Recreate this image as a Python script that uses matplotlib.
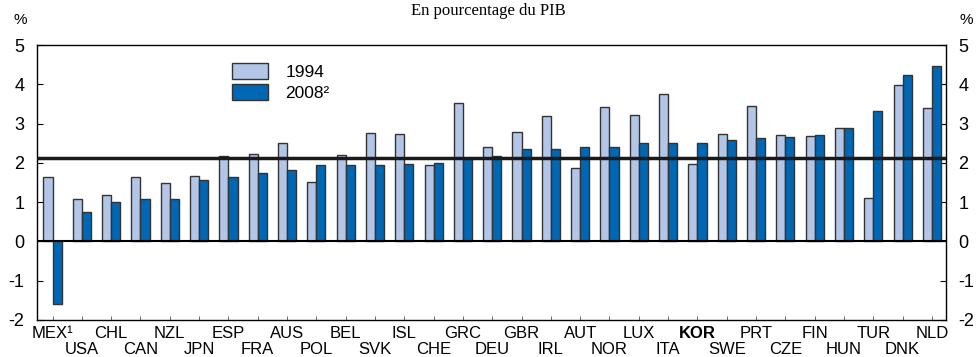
import matplotlib.pyplot as plt
from matplotlib.patches import Patch

plt.rcParams['font.family'] = ['Liberation Sans', 'DejaVu Sans']

countries = ["MEX¹", "USA", "CHL", "CAN", "NZL", "JPN", "ESP", "FRA", "AUS", "POL",
             "BEL", "SVK", "ISL", "CHE", "GRC", "DEU", "GBR", "IRL", "AUT", "NOR",
             "LUX", "ITA", "KOR", "SWE", "PRT", "CZE", "FIN", "HUN", "TUR", "DNK", "NLD"]
v1994 = [1.65, 1.08, 1.17, 1.65, 1.49, 1.67, 2.18, 2.23, 2.51, 1.51,
         2.19, 2.77, 2.73, 1.94, 3.52, 2.40, 2.79, 3.20, 1.88, 3.41,
         3.22, 3.75, 1.96, 2.74, 3.46, 2.71, 2.69, 2.88, 1.10, 3.98, 3.39]
v2008 = [-1.60, 0.76, 1.00, 1.08, 1.08, 1.57, 1.63, 1.73, 1.83, 1.94,
         1.95, 1.95, 1.96, 1.99, 2.13, 2.18, 2.35, 2.35, 2.40, 2.40,
         2.50, 2.50, 2.50, 2.58, 2.63, 2.67, 2.71, 2.88, 3.33, 4.24, 4.47]
oecd_avg = 2.12
yticks = [-2, -1, 0, 1, 2, 3, 4, 5]

c1994 = '#b3c6e8'
c2008 = '#0067b4'
edge = '#333333'

fig = plt.figure(figsize=(9.76, 3.57), dpi=100)
ax = fig.add_axes([37 / 976, 1 - 320 / 357, 909 / 976, 275 / 357])

x = list(range(len(countries)))
w = 0.31
ax.bar([i - w / 2 for i in x], v1994, w, color=c1994, edgecolor=edge, linewidth=1, zorder=2)
ax.bar([i + w / 2 for i in x], v2008, w, color=c2008, edgecolor=edge, linewidth=1, zorder=2)

ax.axhline(0, color='black', lw=1.5, zorder=3)
ax.axhline(oecd_avg, color='#1a1a1a', lw=2.5, zorder=3)

ax.set_xlim(-0.53, 30.48)
ax.set_ylim(-2, 5)
ax.set_yticks(yticks)
ax.set_yticklabels([str(t) for t in yticks])
ax.set_xticks(x)
ax.set_xticklabels([])
ax.tick_params(axis='y', direction='in', length=4, width=0.8, labelsize=13, pad=9,
               left=True, right=True, labelleft=True, labelright=True)
ax.tick_params(axis='x', direction='in', length=3, width=0.6, color='#555555')
for s in ax.spines.values():
    s.set_linewidth(1)

# country labels on two alternating rows
for i, name in enumerate(countries):
    y = -18.5 / 275 if i % 2 == 0 else -33.5 / 275
    ax.text(i, y, name, transform=ax.get_xaxis_transform(), ha='center', va='baseline',
            fontsize=12, fontweight='bold' if name == 'KOR' else 'normal')

handles = [Patch(facecolor=c1994, edgecolor=edge, linewidth=1),
           Patch(facecolor=c2008, edgecolor=edge, linewidth=1)]
fig.legend(handles, ['1994', '2008²'], loc='upper left', frameon=False,
           bbox_to_anchor=(232 / 976, 1 - 63 / 357), borderpad=0, borderaxespad=0,
           fontsize=12.5, handlelength=2.07, handleheight=1.03, handletextpad=1.0,
           labelspacing=0.25)

fig.text(20 / 976, 1 - 20 / 357, '%', ha='center', va='center', fontsize=11)
fig.text(966 / 976, 1 - 20 / 357, '%', ha='center', va='center', fontsize=11)
fig.text(0.5, 1 - 3 / 357, 'En pourcentage du PIB', ha='center', va='top',
         fontsize=12, family=['Liberation Serif', 'DejaVu Serif'])

fig.savefig('out.png', dpi=100)
